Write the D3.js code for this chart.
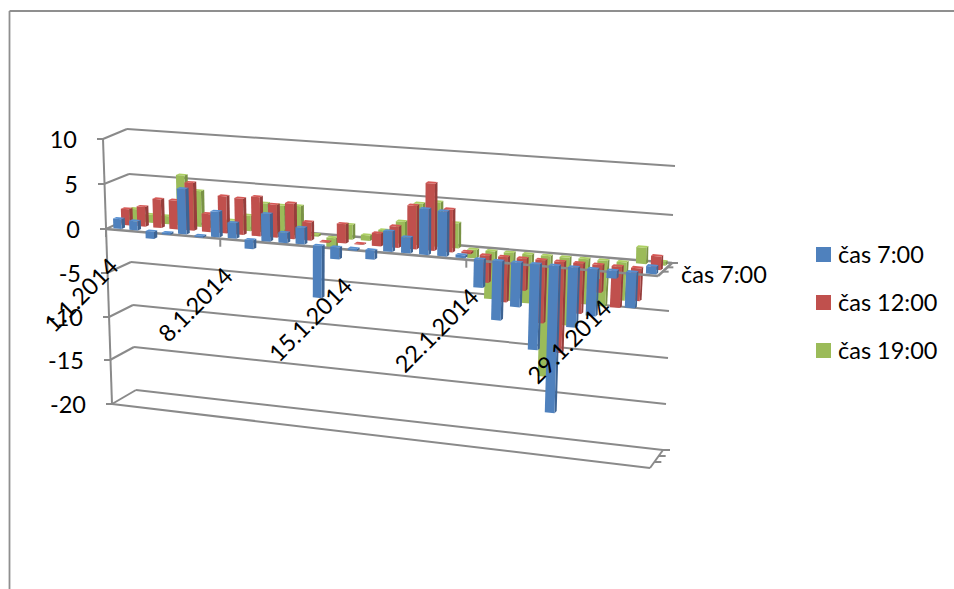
<!DOCTYPE html>
<html>
<head>
<meta charset="utf-8">
<script src="https://cdn.jsdelivr.net/npm/d3@7"></script>
<style>
html,body{margin:0;padding:0;background:#fff;}
svg{display:block;}
text{font-family:Lato,"Open Sans",sans-serif;fill:#000;}
</style>
</head>
<body>
<svg id="chart" width="954" height="589"></svg>
<script>
// Daily temperatures for January 2014 at three reading times.
const days = ["1.1.2014","2.1.2014","3.1.2014","4.1.2014","5.1.2014","6.1.2014","7.1.2014","8.1.2014",
  "9.1.2014","10.1.2014","11.1.2014","12.1.2014","13.1.2014","14.1.2014","15.1.2014","16.1.2014",
  "17.1.2014","18.1.2014","19.1.2014","20.1.2014","21.1.2014","22.1.2014","23.1.2014","24.1.2014",
  "25.1.2014","26.1.2014","27.1.2014","28.1.2014","29.1.2014","30.1.2014","31.1.2014"];
const cas7  = [1.1,1.0,-0.8,-0.2,5.0,-0.2,2.8,1.7,-1.0,3.0,1.1,1.8,-5.7,-1.3,-0.2,-1.0,2.2,1.7,4.9,4.8,0.3,-3.0,-6.3,-4.7,-9.1,-15.6,-6.3,-4.9,-0.8,-3.7,0.8];
const cas12 = [1.8,2.2,3.2,3.2,5.3,2.0,4.1,4.0,4.3,3.6,3.9,2.0,-0.1,2.1,0.1,1.4,2.3,4.7,7.2,4.6,0.2,-2.9,-4.8,-3.4,-6.7,-9.7,-5.3,-2.9,-4.3,-3.4,1.4];
const cas19 = [1.4,0.9,0.9,5.6,4.0,0.8,1.0,1.7,3.2,3.1,3.2,0.2,-1.1,1.6,0.6,1.3,2.4,4.5,4.8,2.7,-0.9,-5.1,-5.1,-5.2,-13.0,-7.2,-4.7,-4.8,-4.0,1.7,0.4];
const valueTicks = [10,5,0,-5,-10,-15,-20];
const dateTicks = ["1.1.2014","8.1.2014","15.1.2014","22.1.2014","29.1.2014"];
const seriesNames = ["čas 7:00","čas 12:00","čas 19:00"];
const seriesColors = ["#4F81BD","#C0504D","#9BBB59"];
const depthLabel = "čas 7:00";

const svg = d3.select("#chart");

// Box corners on screen, as a function of the value, for the oblique 3D view.
const fl = {x:d3.scaleLinear().domain(valueTicks).range([103,104,106,107,109,110,112]),
            y:d3.scaleLinear().domain(valueTicks).range([139,184,229,273,317,360,404])};
const fr = {x:d3.scaleLinear().domain(valueTicks).range([662,660,658,656,654,652,650]),
            y:d3.scaleLinear().domain(valueTicks).range([179,228,276,324.5,372,420,468])};
const bl = {x:d3.scaleLinear().domain(valueTicks).range([127,129,130,131,133,134,136]),
            y:d3.scaleLinear().domain(valueTicks).range([129,174,218,262,305,347,390])};
const br = {x:d3.scaleLinear().domain(valueTicks).range([675,673,672,669,668,666,663]),
            y:d3.scaleLinear().domain(valueTicks).range([166,215,263,311,358,404,450])};

// Foreshortening along the date axis.
const persp = -0.105;
const warp = u => u*(1+persp)/(1+persp*u);
const uScale = d3.scaleBand().domain(days).range([0,1]);

function project(u,w,v){
  const t = warp(u);
  const xf = fl.x(v)+(fr.x(v)-fl.x(v))*t, yf = fl.y(v)+(fr.y(v)-fl.y(v))*t;
  const xb = bl.x(v)+(br.x(v)-bl.x(v))*t, yb = bl.y(v)+(br.y(v)-bl.y(v))*t;
  return [xf+(xb-xf)*w, yf+(yb-yf)*w];
}
const poly = pts => pts.map(p=>p.join(",")).join(" ");

const gridColor = "#8a8a8a";
const gridG = svg.append("g").attr("fill","none").attr("stroke",gridColor);
const line = (g,a,b,sw) => g.append("line")
  .attr("x1",a[0]).attr("y1",a[1]).attr("x2",b[0]).attr("y2",b[1])
  .attr("stroke-width",sw||2);

// Outer chart frame
const frame = svg.append("g").attr("stroke","#8f8f8f");
line(frame,[9.5,11],[954,11],1.8);
line(frame,[9.5,11],[9.5,589],1.8);

// Back wall and side wall gridlines
valueTicks.forEach(v=>{
  if(v!==0) line(gridG,project(0,1,v),project(1,1,v));
  line(gridG,project(0,0,v),project(0,1,v));
  line(gridG,[fl.x(v)-6,fl.y(v)],[fl.x(v),fl.y(v)]);
});
// Value axis and floor
line(gridG,project(0,0,10),project(0,0,-20));
line(gridG,project(0,0,-20),project(1,0,-20));
line(gridG,project(1,0,-20),project(1,1,-20));
[1/3,2/3,1].forEach(w=>{
  const p = project(1,w,-20);
  line(gridG,p,[p[0]+7,p[1]]);
});

// Zero plane: back edge, right edge and depth ticks
line(gridG,project(0,1,0),project(1,1,0),2.4);
line(gridG,project(1,0,0),project(1,1,0),2.4);
[1/3,2/3,1].forEach(w=>{
  const p = project(1,w,0);
  line(gridG,p,[p[0]+6,p[1]]);
});

// One bar becomes three faces: front, right side and cap.
function barFaces(seriesIndex,values){
  const wc = (seriesIndex+0.5)/3, wd = 0.07;
  const step = uScale.bandwidth(), ud = step*0.26;
  return values.map((val,i)=>{
    const uc = uScale(days[i])+step*0.58;
    const l = uc-ud, r = uc+ud, f = wc-wd, b = wc+wd;
    const top = Math.max(val,0), bot = Math.min(val,0);
    return {
      front:[project(l,f,top),project(r,f,top),project(r,f,bot),project(l,f,bot)],
      side:[project(r,f,top),project(r,b,top),project(r,b,bot),project(r,f,bot)],
      cap:[project(l,f,top),project(r,f,top),project(r,b,top),project(l,b,top)]
    };
  });
}

function drawSeries(seriesIndex,values){
  const base = d3.color(seriesColors[seriesIndex]);
  const g = svg.append("g");
  const bars = g.selectAll("g").data(barFaces(seriesIndex,values)).join("g");
  bars.append("polygon").attr("points",d=>poly(d.side)).attr("fill",base.darker(0.7));
  bars.append("polygon").attr("points",d=>poly(d.front)).attr("fill",base);
  bars.append("polygon").attr("points",d=>poly(d.cap)).attr("fill",base.brighter(0.3));
}

// Back lanes first so the nearer lanes overlap them
drawSeries(2,cas19);
drawSeries(1,cas12);

// Front edge of the zero plane with date ticks
const axisG = svg.append("g").attr("stroke",gridColor);
line(axisG,project(0,0,0),project(1,0,0),2.6);
dateTicks.forEach(d=>{
  const p = project(uScale(d),0,0);
  line(axisG,p,[p[0],p[1]+8],2);
});

drawSeries(0,cas7);

// Value labels follow the slant of the axis
const fontSize = 23.5;
svg.append("g").selectAll("text").data(valueTicks).join("text")
  .attr("x",v=>fl.x(v)-26)
  .attr("y",v=>fl.y(v)+9)
  .attr("text-anchor","end")
  .attr("font-size",fontSize)
  .text(v=>String(v));

// Rotated date labels
svg.append("g").selectAll("text").data(dateTicks).join("text")
  .attr("transform",d=>{
    const p = project(uScale(d),0,0);
    return `translate(${p[0]+14},${p[1]+39}) rotate(-45)`;
  })
  .attr("text-anchor","end")
  .attr("font-size",fontSize)
  .text(d=>d);

// Depth axis label
svg.append("text").attr("x",681).attr("y",283).attr("font-size",fontSize).text(depthLabel);

// Legend
const legend = svg.append("g").selectAll("g").data(seriesNames).join("g")
  .attr("transform",(d,i)=>`translate(816,${247+i*48})`);
legend.append("rect").attr("width",15).attr("height",15).attr("fill",(d,i)=>seriesColors[i]);
legend.append("text").attr("x",22).attr("y",15.5).attr("font-size",fontSize).text(d=>d);
</script>
</body>
</html>
